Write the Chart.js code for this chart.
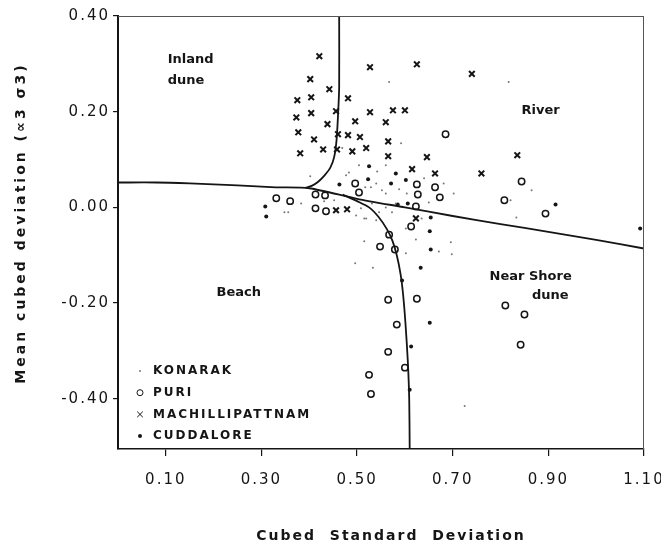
<!DOCTYPE html>
<html>
<head>
<meta charset="utf-8">
<title>Cubed Standard Deviation vs Mean cubed deviation</title>
<script src="https://cdn.jsdelivr.net/npm/chart.js@4.4.0/dist/chart.umd.min.js"></script>
<style>
  html, body { margin: 0; padding: 0; background: #fff; }
  #wrap { width: 661px; height: 551px; }
</style>
</head>
<body>
<div id="wrap"><canvas id="chart" width="661" height="551"></canvas></div>
<script>
// valeurs (x = cubed std dev, y = mean cubed deviation)
const konarak = [
  [0.402, 0.065], [0.477, 0.067], [0.483, 0.073], [0.504, 0.088], [0.560, 0.088],
  [0.567, 0.262], [0.817, 0.262], [0.592, 0.134], [0.469, 0.124], [0.542, 0.075],
  [0.517, 0.042], [0.529, 0.042], [0.540, 0.050], [0.552, 0.036], [0.560, 0.029],
  [0.588, 0.038], [0.604, 0.029], [0.640, 0.061], [0.681, 0.050], [0.702, 0.029],
  [0.650, 0.010], [0.531, 0.008], [0.581, 0.008], [0.546, -0.010], [0.560, 0.000],
  [0.573, -0.010], [0.519, -0.023], [0.540, -0.027], [0.602, -0.044], [0.635, -0.023],
  [0.348, -0.010], [0.356, -0.010], [0.383, 0.008], [0.431, 0.013], [0.452, 0.015],
  [0.508, -0.002], [0.498, -0.017], [0.515, -0.023], [0.515, -0.071], [0.496, -0.117],
  [0.533, -0.126], [0.602, -0.096], [0.671, -0.092], [0.696, -0.073], [0.698, -0.098],
  [0.623, -0.067], [0.821, 0.015], [0.865, 0.036], [0.833, -0.021], [0.725, -0.415]
];
const puri = [
  [0.331, 0.019], [0.360, 0.013], [0.413, 0.027], [0.433, 0.025], [0.413, -0.002],
  [0.435, -0.008], [0.496, 0.050], [0.504, 0.031], [0.625, 0.048], [0.663, 0.042],
  [0.627, 0.027], [0.673, 0.021], [0.623, 0.002], [0.613, -0.040], [0.685, 0.153],
  [0.844, 0.054], [0.808, 0.015], [0.894, -0.013], [0.567, -0.057], [0.548, -0.082],
  [0.579, -0.088], [0.565, -0.193], [0.625, -0.191], [0.583, -0.245], [0.565, -0.302],
  [0.600, -0.335], [0.525, -0.350], [0.529, -0.390], [0.810, -0.205], [0.850, -0.224],
  [0.842, -0.287]
];
const machillipattnam = [
  [0.421, 0.316], [0.527, 0.293], [0.625, 0.299], [0.740, 0.279], [0.402, 0.268],
  [0.442, 0.247], [0.375, 0.224], [0.404, 0.230], [0.481, 0.228], [0.373, 0.188],
  [0.404, 0.197], [0.456, 0.201], [0.527, 0.199], [0.575, 0.203], [0.600, 0.203],
  [0.438, 0.174], [0.496, 0.180], [0.560, 0.178], [0.377, 0.157], [0.460, 0.153],
  [0.481, 0.151], [0.506, 0.147], [0.410, 0.142], [0.565, 0.138], [0.381, 0.113],
  [0.429, 0.121], [0.458, 0.121], [0.490, 0.117], [0.519, 0.124], [0.565, 0.107],
  [0.646, 0.105], [0.615, 0.080], [0.663, 0.071], [0.760, 0.071], [0.835, 0.109],
  [0.456, -0.006], [0.479, -0.004], [0.623, -0.023]
];
const cuddalore = [
  [0.308, 0.002], [0.310, -0.019], [0.463, 0.048], [0.525, 0.086], [0.523, 0.059],
  [0.581, 0.071], [0.571, 0.050], [0.602, 0.057], [0.585, 0.006], [0.606, 0.008],
  [0.654, -0.021], [0.652, -0.050], [0.654, -0.088], [0.633, -0.126], [0.594, -0.153],
  [0.652, -0.241], [0.613, -0.291], [0.610, -0.381], [0.915, 0.006], [1.092, -0.044]
];

// lignes de séparation des milieux
const dividerMain = [
  [0.00, 0.052], [0.08, 0.052], [0.15, 0.050], [0.25, 0.046], [0.33, 0.042],
  [0.40, 0.040], [0.50, 0.018], [0.60, 0.000], [0.70, -0.018], [0.80, -0.035],
  [0.90, -0.051], [1.00, -0.068], [1.10, -0.086]
];
const dividerInland = [
  [0.4625, 0.40], [0.4625, 0.25], [0.460, 0.19], [0.457, 0.14], [0.452, 0.105],
  [0.444, 0.083], [0.432, 0.067], [0.418, 0.053], [0.405, 0.045], [0.392, 0.041]
];
const dividerBeach = [
  [0.470, 0.027], [0.500, 0.013], [0.525, 0.000], [0.545, -0.020], [0.562, -0.045],
  [0.574, -0.070], [0.583, -0.100], [0.591, -0.140], [0.596, -0.180], [0.601, -0.240],
  [0.606, -0.320], [0.609, -0.400], [0.610, -0.505]
];

const xTicks = [0.10, 0.30, 0.50, 0.70, 0.90, 1.10];
const yTicks = [0.40, 0.20, 0.00, -0.20, -0.40];

const INK = '#151515';
const FONT = '"DejaVu Sans", sans-serif';
const pts = arr => arr.map(p => ({ x: p[0], y: p[1] }));

function lineSet(arr) {
  return {
    type: 'line', data: pts(arr), showLine: true, fill: false,
    borderColor: INK, borderWidth: 1.8, pointRadius: 0, tension: 0.25,
    inLegend: false
  };
}

// texte : titres, zones, légende
const overlay = {
  id: 'overlay',
  beforeDraw(chart) {
    chart.ctx.letterSpacing = '2px';
  },
  beforeDatasetsDraw(chart) {
    chart.ctx.letterSpacing = '0px';
  },
  afterDraw(chart) {
    const ctx = chart.ctx;
    const { left, right, top, bottom } = chart.chartArea;
    const sx = chart.scales.x, sy = chart.scales.y;
    ctx.save();
    ctx.letterSpacing = '0px';

    // cadre haut et droit (pâle sur le scan)
    ctx.strokeStyle = '#555';
    ctx.lineWidth = 1;
    ctx.beginPath();
    ctx.moveTo(left, top + 0.5); ctx.lineTo(right, top + 0.5);
    ctx.moveTo(right - 0.5, top); ctx.lineTo(right - 0.5, bottom);
    ctx.stroke();

    // noms des zones
    ctx.fillStyle = INK;
    ctx.font = 'bold 13px ' + FONT;
    ctx.textBaseline = 'middle';
    ctx.textAlign = 'left';
    [['Inland', 0.104, 0.308], ['dune', 0.104, 0.264], ['River', 0.844, 0.203],
     ['Near Shore', 0.777, -0.145], ['Beach', 0.206, -0.178]].forEach(t => {
      ctx.fillText(t[0], sx.getPixelForValue(t[1]), sy.getPixelForValue(t[2]));
    });
    ctx.textAlign = 'center';
    ctx.fillText('dune', sx.getPixelForValue(0.904), sy.getPixelForValue(-0.184));

    // titres des axes
    ctx.font = 'bold 14px ' + FONT;
    ctx.letterSpacing = '2px';
    ctx.fillText('Cubed  Standard  Deviation', 391, 536);
    ctx.save();
    ctx.translate(21, 223);
    ctx.rotate(-Math.PI / 2);
    ctx.letterSpacing = '3px';
    ctx.fillText('Mean cubed deviation (\u221D3 \u03C33)', 0, 0);
    ctx.restore();

    // légende dans le cadre
    ctx.font = 'bold 12px ' + FONT;
    ctx.letterSpacing = '2px';
    ctx.textAlign = 'left';
    let y = 371;
    chart.data.datasets.forEach(ds => {
      if (ds.inLegend === false) return;
      ctx.fillStyle = ds.pointBackgroundColor;
      ctx.strokeStyle = ds.pointBorderColor;
      Chart.helpers.drawPoint(ctx, {
        pointStyle: ds.pointStyle, rotation: 0,
        radius: ds.legendRadius, borderWidth: ds.pointBorderWidth
      }, 140, y);
      ctx.fillStyle = INK;
      ctx.fillText(ds.label, 153, y);
      y += 21.7;
    });
    ctx.restore();
  }
};

new Chart(document.getElementById('chart'), {
  type: 'scatter',
  data: {
    datasets: [
      lineSet(dividerMain),
      lineSet(dividerInland),
      lineSet(dividerBeach),
      {
        label: 'KONARAK', data: pts(konarak), pointStyle: 'circle',
        pointRadius: 1, legendRadius: 1, pointBorderWidth: 0,
        pointBackgroundColor: '#777', pointBorderColor: '#777'
      },
      {
        label: 'PURI', data: pts(puri), pointStyle: 'circle',
        pointRadius: 3.2, legendRadius: 3, pointBorderWidth: 1.5,
        pointBackgroundColor: 'rgba(0,0,0,0)', pointBorderColor: INK
      },
      {
        label: 'MACHILLIPATTNAM', data: pts(machillipattnam), pointStyle: 'crossRot',
        pointRadius: 4, legendRadius: 4, pointBorderWidth: 2,
        pointBackgroundColor: INK, pointBorderColor: INK
      },
      {
        label: 'CUDDALORE', data: pts(cuddalore), pointStyle: 'circle',
        pointRadius: 2, legendRadius: 2, pointBorderWidth: 0,
        pointBackgroundColor: INK, pointBorderColor: INK
      }
    ]
  },
  options: {
    responsive: false,
    animation: false,
    layout: { padding: { top: 16, right: 17, left: 0, bottom: 0 } },
    plugins: { legend: { display: false }, tooltip: { enabled: false } },
    scales: {
      x: {
        type: 'linear', min: 0, max: 1.1,
        afterBuildTicks: s => { s.ticks = xTicks.map(v => ({ value: v })); },
        afterFit: s => { s.height = 102; s.paddingLeft = 0; s.paddingRight = 0; },
        ticks: {
          callback: v => v.toFixed(2), color: INK, padding: 15,
          font: { family: FONT, size: 15 }, maxRotation: 0, autoSkip: false
        },
        grid: { drawOnChartArea: false, drawTicks: true, tickLength: 7, color: INK, lineWidth: 1.2 },
        border: { display: true, color: INK, width: 1.6 }
      },
      y: {
        type: 'linear', min: -0.505, max: 0.40,
        afterBuildTicks: s => { s.ticks = yTicks.map(v => ({ value: v })); },
        afterFit: s => { s.width = 118; s.paddingTop = 0; s.paddingBottom = 0; },
        ticks: {
          callback: v => v.toFixed(2), color: INK, padding: 3,
          font: { family: FONT, size: 15 }, autoSkip: false
        },
        grid: { drawOnChartArea: false, drawTicks: true, tickLength: 5, color: INK, lineWidth: 1.2 },
        border: { display: true, color: INK, width: 2 }
      }
    }
  },
  plugins: [overlay]
});
</script>
</body>
</html>
